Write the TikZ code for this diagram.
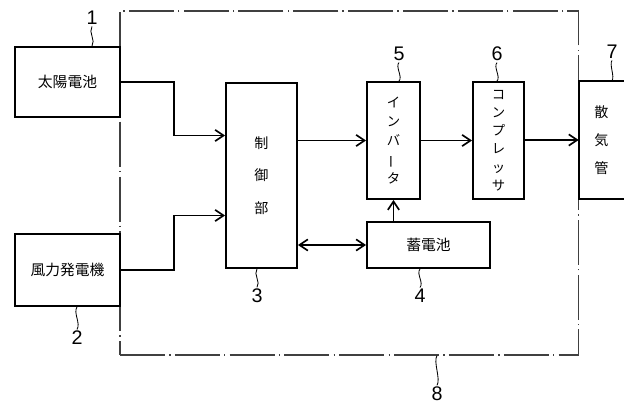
\documentclass[tikz,border=0pt]{standalone}
\usepackage{fontspec}
\usepackage{graphicx}
\newfontfamily\jpfont{Noto Sans CJK JP}
\newfontfamily\numfont{Liberation Sans}
\usetikzlibrary{arrows.meta}

\begin{document}
\begin{tikzpicture}[x=0.025cm,y=-0.025cm,
  blockbox/.style={draw,line width=1.3pt,inner sep=0pt,align=center,
    font=\jpfont\fontsize{10.5}{12}\selectfont},
  vbox/.style={blockbox,font=\jpfont\fontsize{9.5}{13.5}\selectfont},
  sysbox/.style={draw=black!75,line width=0.8pt,
    dash pattern=on 32pt off 3pt on 1pt off 3pt,
    minimum width=11.45cm,minimum height=8.6cm},
  arr/.style={-{Straight Barb[length=6pt,width=8pt]},line width=1.2pt},
  darr/.style={{Straight Barb[length=6pt,width=8pt]}-{Straight Barb[length=6pt,width=8pt]},line width=1.2pt},
  num/.style={font=\numfont\fontsize{14}{14}\selectfont,inner sep=1pt},
  leader/.style={line width=0.6pt}
]
  \useasboundingbox (0,0) rectangle (624,405);

  % System boundary
  \node[sysbox] (sys) at (349,183) {};

  % Power sources
  \node[blockbox,minimum width=2.625cm,minimum height=1.75cm] (solar) at (67.5,82) {太陽電池};
  \node[blockbox,minimum width=2.625cm,minimum height=1.8cm] (wind) at (67.5,270) {風力発電機};

  % Control unit
  \node[blockbox,minimum width=1.775cm,minimum height=4.625cm,
    font=\jpfont\fontsize{10}{23}\selectfont] (control) at (261.5,175.5) {制\\御\\部};

  % Inverter, compressor, battery
  \node[vbox,minimum width=1.325cm,minimum height=2.925cm] (inverter) at (393.5,140.5)
    {イ\\ン\\バ\\\rotatebox[origin=c]{90}{ー}\\タ};
  \node[vbox,minimum width=1.275cm,minimum height=2.925cm,
    font=\jpfont\fontsize{9.5}{13}\selectfont] (compressor) at (498.5,140.5)
    {コ\\ン\\プ\\レ\\ッ\\サ};
  \node[blockbox,minimum width=3.075cm,minimum height=1.15cm] (battery) at (428.5,245) {蓄電池};

  % Diffuser pipe (open to the right)
  \node[inner sep=0pt,minimum width=1.125cm,minimum height=2.95cm,align=center,
    font=\jpfont\fontsize{10}{20}\selectfont] (diffuser) at (601.5,140) {散\\気\\管};
  \draw[line width=1.3pt] (diffuser.north east) -- (diffuser.north west)
    -- (diffuser.south west) -- (diffuser.south east);

  % Arrows
  \draw[arr] (solar.east) -- ++(53,0) |- ([yshift=1cm]control.west);
  \draw[arr] (wind.east) -- ++(53,0) |- ([yshift=-1cm]control.west);
  \draw[arr] (control.east |- inverter.west) -- (inverter.west);
  \draw[arr] (inverter.east) -- (compressor.west);
  \draw[arr] (compressor.east |- diffuser.west) -- (diffuser.west);
  \draw[arr] (inverter.south |- battery.north) -- (inverter.south);
  \draw[darr] (control.east |- battery.west) -- (battery.west);

  % Reference numbers
  \node[num] (n1) at (92,18) {1};
  \node[num] (n2) at (77,338) {2};
  \node[num] (n3) at (257,296) {3};
  \node[num] (n4) at (420,296) {4};
  \node[num] (n5) at (399,54) {5};
  \node[num] (n6) at (497,54) {6};
  \node[num] (n7) at (612,52) {7};
  \node[num] (n8) at (437,394) {8};

  \draw[leader] (n1.south) .. controls +(-4,6) and +(4,-6) .. (n1.south |- solar.north);
  \draw[leader] (n2.north) .. controls +(4,-6) and +(-4,6) .. (n2.north |- wind.south);
  \draw[leader] (n3.north) .. controls +(4,-5) and +(-4,5) .. (n3.north |- control.south);
  \draw[leader] (n4.north) .. controls +(4,-5) and +(-4,5) .. (n4.north |- battery.south);
  \draw[leader] (n5.south) .. controls +(-4,4) and +(4,-4) .. (n5.south |- inverter.north);
  \draw[leader] (n6.south) .. controls +(-4,4) and +(4,-4) .. (n6.south |- compressor.north);
  \draw[leader] (n7.south) .. controls +(-3,4) and +(3,-4) .. (n7.south |- diffuser.north);
  \draw[leader] (n8.north) .. controls +(4,-6) and +(-4,6) .. (n8.north |- sys.south);
\end{tikzpicture}
\end{document}
